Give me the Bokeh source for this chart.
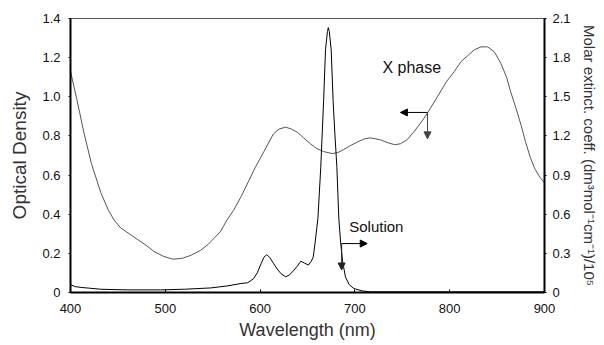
from bokeh.plotting import figure
from bokeh.models import (Range1d, LinearAxis, FixedTicker, CustomJSTickFormatter,
                          Arrow, NormalHead, Label)
from bokeh.embed import file_html
from bokeh.resources import INLINE

# ---- data ----
xphase_nm = [400, 407, 414, 422, 432, 440, 446, 453, 462, 471, 480, 488, 498, 508, 518,
             527, 537, 545, 552, 558, 565, 572, 580, 587, 595, 604, 614, 620, 627, 633,
             639, 646, 653, 660, 667, 676, 682, 688, 695, 703, 710, 716, 722, 727, 735,
             742, 748, 755, 762, 770, 777, 787, 797, 805, 812, 819, 826, 833, 840, 847,
             854, 860, 864, 870, 875, 880, 885, 890, 895, 900]
xphase_od = [1.13, 0.98, 0.82, 0.66, 0.51, 0.42, 0.37, 0.33, 0.30, 0.27, 0.24, 0.21, 0.185,
             0.17, 0.175, 0.19, 0.215, 0.245, 0.28, 0.31, 0.37, 0.42, 0.49, 0.56, 0.64,
             0.72, 0.81, 0.835, 0.845, 0.835, 0.82, 0.79, 0.76, 0.735, 0.72, 0.71, 0.715,
             0.73, 0.75, 0.77, 0.785, 0.79, 0.785, 0.78, 0.765, 0.755, 0.76, 0.78, 0.82,
             0.87, 0.92, 1.00, 1.08, 1.13, 1.18, 1.21, 1.24, 1.255, 1.255, 1.23, 1.17,
             1.10, 1.03, 0.94, 0.86, 0.77, 0.69, 0.63, 0.59, 0.56]

solution_nm = [400, 405, 411, 420, 432, 460, 495, 520, 548, 565, 579, 587, 593, 597, 601,
               604, 607, 610, 614, 618, 622, 627, 631, 635, 639, 643, 647, 651, 654, 656,
               658, 661, 664, 667, 669, 671, 672, 673, 675, 677, 679, 681, 683, 685, 687,
               690, 694, 699, 708, 716, 750, 800, 850, 900]
solution_eps = [0.06, 0.045, 0.039, 0.033, 0.025, 0.02, 0.02, 0.025, 0.035, 0.05, 0.068,
                0.075, 0.105, 0.15, 0.22, 0.27, 0.29, 0.27, 0.225, 0.18, 0.145, 0.12,
                0.135, 0.165, 0.2, 0.24, 0.225, 0.21, 0.24, 0.27, 0.38, 0.57, 0.96, 1.47,
                1.86, 2.0, 2.03, 2.0, 1.86, 1.47, 1.2, 0.96, 0.57, 0.38, 0.24, 0.12, 0.06,
                0.03, 0.012, 0.005, 0.005, 0.005, 0.005, 0.005]

x_ticks = [400, 500, 600, 700, 800, 900]
left_ticks = [0, 0.2, 0.4, 0.6, 0.8, 1.0, 1.2, 1.4]
right_ticks = [0, 0.3, 0.6, 0.9, 1.2, 1.5, 1.8, 2.1]

FONT = "Liberation Sans"

p = figure(width=600, height=343, output_backend="svg", toolbar_location=None,
           x_range=Range1d(400, 900), y_range=Range1d(0, 1.4),
           min_border_left=70, min_border_right=55, min_border_top=18, min_border_bottom=51)
p.extra_y_ranges = {"eps": Range1d(0, 2.1)}
p.grid.visible = False
p.outline_line_color = "#555555"
p.outline_line_width = 1
p.background_fill_color = "white"
p.border_fill_color = "white"

fmt = CustomJSTickFormatter(code="return tick == 0 ? '0' : tick.toFixed(1);")

def style_axis(ax):
    ax.axis_line_color = "black"
    ax.axis_line_width = 2
    ax.major_tick_line_color = "black"
    ax.minor_tick_line_color = None
    ax.major_label_text_font = FONT
    ax.major_label_text_font_size = "13px"
    ax.major_label_text_color = "#111111"
    ax.axis_label_text_font = FONT
    ax.axis_label_text_font_style = "normal"
    ax.axis_label_text_color = "#333333"

xa = p.xaxis[0]
style_axis(xa)
xa.ticker = FixedTicker(ticks=x_ticks)
xa.major_tick_in = 3
xa.major_tick_out = 0
xa.major_label_standoff = 11
xa.axis_label = "Wavelength (nm)"
xa.axis_label_text_font_size = "18px"
xa.axis_label_standoff = 4

ya = p.yaxis[0]
style_axis(ya)
ya.ticker = FixedTicker(ticks=left_ticks)
ya.formatter = fmt
ya.major_tick_in = 0
ya.major_tick_out = 2
ya.major_label_standoff = 8
ya.axis_label = "Optical Density"
ya.axis_label_text_font_size = "19px"
ya.axis_label_standoff = 9

ra = LinearAxis(y_range_name="eps")
style_axis(ra)
ra.ticker = FixedTicker(ticks=right_ticks)
ra.formatter = fmt
ra.major_tick_in = 0
ra.major_tick_out = 2
ra.major_label_standoff = 6
ra.axis_label = "Molar extinct. coeff. (dm\u00b3mol\u207b\u00b9cm\u207b\u00b9)/10\u2075"
ra.axis_label_text_font_size = "15px"
ra.axis_label_standoff = 7
p.add_layout(ra, "right")

p.line(xphase_nm, xphase_od, line_color="#555555", line_width=1)
p.line(solution_nm, solution_eps, y_range_name="eps", line_color="black", line_width=1)

# arrows
def arrow(x0, y0, x1, y1, color):
    p.add_layout(Arrow(x_start=x0, y_start=y0, x_end=x1, y_end=y1,
                       line_color=color, line_width=1,
                       end=NormalHead(size=7, fill_color=color, line_color=color)))

arrow(776.6, 0.92, 748, 0.92, "black")
arrow(776.6, 0.92, 776.6, 0.785, "#444444")
arrow(686, 0.25, 713, 0.25, "black")
arrow(686, 0.25, 686, 0.115, "#222222")

p.add_layout(Label(x=729, y=1.15, text="X phase", text_font=FONT, text_font_size="16px",
                   text_baseline="middle", text_color="#111111"))
p.add_layout(Label(x=694, y=0.337, text="Solution", text_font=FONT, text_font_size="15px",
                   text_baseline="middle", text_color="#111111"))

open("out.html", "w").write(file_html(p, INLINE))
